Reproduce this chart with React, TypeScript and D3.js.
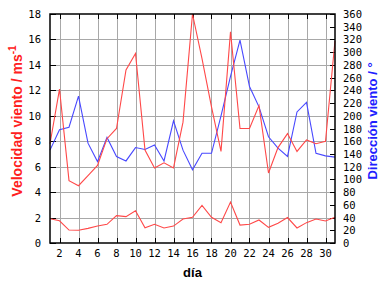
import React, { useEffect, useRef } from "react";
import * as d3 from "d3";

const days = d3.range(1, 32);
const speedMax = [7.8, 12.1, 4.9, 4.5, 5.3, 6.1, 8.2, 9.0, 13.6, 14.9, 7.3, 5.9, 6.3, 5.9, 9.5, 18.0, 14.5, 10.7, 7.2, 16.6, 9.0, 9.0, 10.8, 5.5, 7.5, 8.6, 7.2, 8.1, 7.8, 8.0, 15.9];
const speedMean = [1.9, 1.75, 1.02, 1.0, 1.15, 1.33, 1.47, 2.15, 2.07, 2.54, 1.2, 1.47, 1.18, 1.33, 1.89, 2.02, 2.96, 2.02, 1.6, 3.22, 1.41, 1.47, 1.81, 1.23, 1.55, 2.0, 1.18, 1.6, 1.89, 1.73, 2.02];
const direction = [146, 178, 182, 231, 157, 128, 166, 136, 129, 150, 147, 154, 129, 192, 146, 115, 141, 141, 200, 262, 319, 246, 214, 167, 149, 136, 206, 221, 141, 137, 135];
const xTicks = d3.range(2, 31, 2);
const speedTicks = d3.range(0, 19, 2);
const dirTicks = d3.range(0, 361, 20);

const W = 384;
const H = 288;
const M = { top: 14, right: 49, bottom: 45, left: 50 };
const RED = "#ff4848";
const BLUE = "#4848ff";

export default function App() {
  const ref = useRef<SVGSVGElement>(null);

  useEffect(() => {
    const svg = d3.select(ref.current);
    svg.selectAll("*").remove();

    const x = d3.scaleLinear().domain([1, 31]).range([M.left, W - M.right]);
    const y = d3.scaleLinear().domain([0, 18]).range([H - M.bottom, M.top]);
    const y2 = d3.scaleLinear().domain([0, 360]).range([H - M.bottom, M.top]);

    const g = svg.append("g").attr("shape-rendering", "crispEdges");

    // grid
    g.selectAll(".vg").data(xTicks).join("line")
      .attr("x1", (d) => Math.round(x(d)) + 0.5).attr("x2", (d) => Math.round(x(d)) + 0.5)
      .attr("y1", M.top).attr("y2", H - M.bottom)
      .attr("stroke", "#a8a8a8");
    g.selectAll(".hg").data(speedTicks.slice(1, -1)).join("line")
      .attr("y1", (d) => Math.round(y(d)) + 0.5).attr("y2", (d) => Math.round(y(d)) + 0.5)
      .attr("x1", M.left).attr("x2", W - M.right)
      .attr("stroke", "#a8a8a8");

    // ticks
    const tk = svg.append("g").attr("stroke", "#000").attr("shape-rendering", "crispEdges");
    xTicks.forEach((d) => {
      const xx = Math.round(x(d)) + 0.5;
      tk.append("line").attr("x1", xx).attr("x2", xx).attr("y1", H - M.bottom).attr("y2", H - M.bottom - 5);
      tk.append("line").attr("x1", xx).attr("x2", xx).attr("y1", M.top).attr("y2", M.top + 5);
    });
    speedTicks.forEach((d) => {
      const yy = Math.round(y(d)) + 0.5;
      tk.append("line").attr("x1", M.left).attr("x2", M.left + 6).attr("y1", yy).attr("y2", yy);
    });
    dirTicks.forEach((d) => {
      const yy = Math.round(y2(d)) + 0.5;
      tk.append("line").attr("x1", W - M.right).attr("x2", W - M.right - 5).attr("y1", yy).attr("y2", yy);
    });

    // lines
    const lineS = d3.line<number>().x((_, i) => x(days[i])).y((d) => y(d));
    const lineD = d3.line<number>().x((_, i) => x(days[i])).y((d) => y2(d));
    svg.append("path").datum(direction).attr("d", lineD).attr("fill", "none").attr("stroke", BLUE).attr("stroke-width", 1.1);
    svg.append("path").datum(speedMax).attr("d", lineS).attr("fill", "none").attr("stroke", RED).attr("stroke-width", 1.1);
    svg.append("path").datum(speedMean).attr("d", lineS).attr("fill", "none").attr("stroke", RED).attr("stroke-width", 1.1);

    // frame
    svg.append("rect")
      .attr("x", M.left).attr("y", M.top)
      .attr("width", W - M.left - M.right).attr("height", H - M.top - M.bottom)
      .attr("fill", "none").attr("stroke", "#000").attr("stroke-width", 1.5);

    // tick labels
    const mono = "'DejaVu Sans Mono', monospace";
    svg.append("g").selectAll("text").data(speedTicks).join("text")
      .attr("x", M.left - 9).attr("y", (d) => y(d) + 4)
      .attr("text-anchor", "end").attr("font-family", mono).attr("font-size", 10.5)
      .text((d) => d);
    svg.append("g").selectAll("text").data(dirTicks).join("text")
      .attr("x", W - M.right + 8).attr("y", (d) => y2(d) + 4)
      .attr("text-anchor", "start").attr("font-family", mono).attr("font-size", 10.5)
      .text((d) => d);
    svg.append("g").selectAll("text").data(xTicks).join("text")
      .attr("x", (d) => x(d)).attr("y", H - M.bottom + 14)
      .attr("text-anchor", "middle").attr("font-family", mono).attr("font-size", 10.5)
      .text((d) => d);

    // axis titles
    const sans = "'Liberation Sans', Arial, sans-serif";
    svg.append("text")
      .attr("x", (M.left + W - M.right) / 2).attr("y", 276.5)
      .attr("text-anchor", "middle").attr("font-family", sans).attr("font-weight", "bold").attr("font-size", 13)
      .text("día");

    const lt = svg.append("text")
      .attr("transform", `translate(22,121) rotate(-90)`)
      .attr("text-anchor", "middle").attr("font-family", sans).attr("font-weight", "bold").attr("font-size", 14)
      .attr("fill", "#ff2020");
    lt.append("tspan").text("Velocidad viento / ms");
    lt.append("tspan").attr("dy", -6).attr("font-size", 10).text("-1");

    svg.append("text")
      .attr("transform", `translate(377,121) rotate(-90)`)
      .attr("text-anchor", "middle").attr("font-family", sans).attr("font-weight", "bold").attr("font-size", 13)
      .attr("fill", "#2020ff")
      .text("Dirección viento / °");
  }, []);

  return (
    <svg ref={ref} width={W} height={H} style={{ position: "absolute", left: 0, top: 0, background: "#fff" }} />
  );
}
